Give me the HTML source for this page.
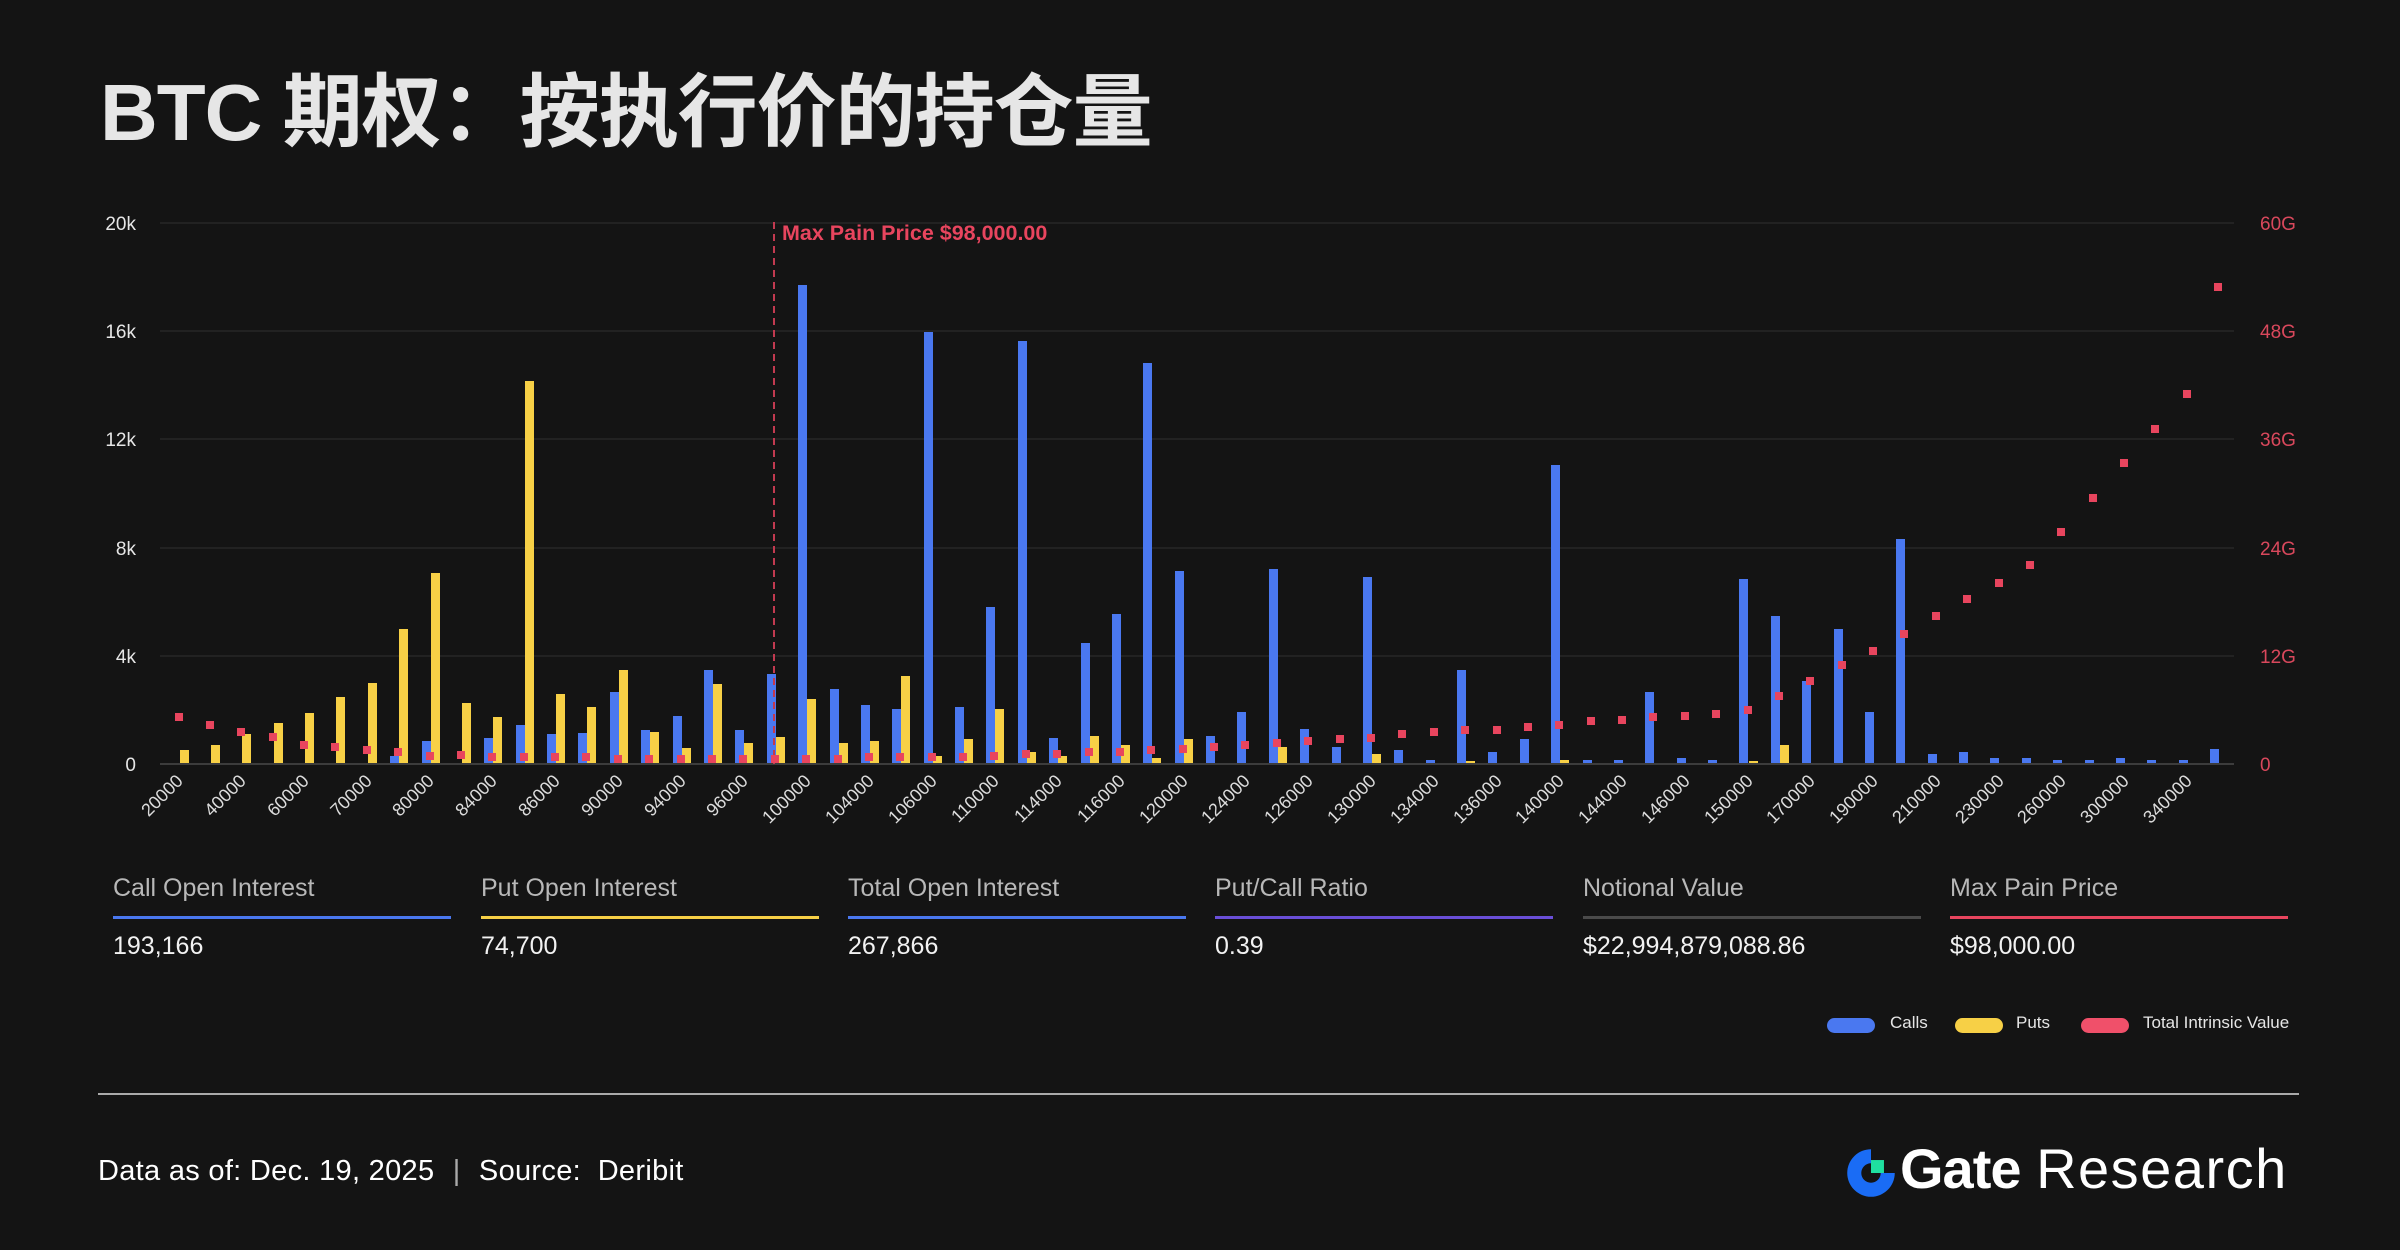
<!DOCTYPE html>
<html><head><meta charset="utf-8"><style>
html,body{margin:0;padding:0;background:#141414;}
body{width:2400px;height:1250px;position:relative;overflow:hidden;font-family:"Liberation Sans","Noto Sans CJK SC",sans-serif;color:#fff;}
.title{position:absolute;left:100px;top:48px;font-size:80px;font-weight:bold;color:#e6e6e6;font-family:"Liberation Sans","Noto Sans CJK SC",sans-serif;letter-spacing:-1px;white-space:nowrap;}
.stat{position:absolute;top:874px;width:338px;}
.stat .l{font-size:25px;color:#b8b8b8;height:36px;}
.stat .bar{height:3px;margin-top:6px;}
.stat .v{font-size:25px;color:#f2f2f2;margin-top:13px;}
.leg{position:absolute;top:1013px;font-size:17px;color:#e6e6e6;}
.pill{position:absolute;top:1018px;width:48px;height:15px;border-radius:8px;}
.sep{position:absolute;left:98px;top:1093px;width:2201px;height:2px;background:#aaa;}
.foot{position:absolute;left:98px;top:1155px;font-size:29px;color:#fff;letter-spacing:0.3px;}
.logo{position:absolute;left:1900px;top:1136px;font-size:56px;color:#fff;white-space:nowrap;}
</style></head><body>
<div class="title">BTC 期权：按执行价的持仓量</div>

<svg width="2400" height="1250" style="position:absolute;left:0;top:0" xmlns="http://www.w3.org/2000/svg">
<g stroke="#262626" stroke-width="1.5">
<line x1="160" x2="2234" y1="223" y2="223"/><line x1="160" x2="2234" y1="331" y2="331"/>
<line x1="160" x2="2234" y1="439" y2="439"/><line x1="160" x2="2234" y1="548" y2="548"/>
<line x1="160" x2="2234" y1="656" y2="656"/>
</g>
<g font-family="Liberation Sans, sans-serif" font-size="19" fill="#e6e6e6" text-anchor="end">
<text x="136" y="230">20k</text><text x="136" y="338">16k</text><text x="136" y="446">12k</text>
<text x="136" y="555">8k</text><text x="136" y="663">4k</text><text x="136" y="771">0</text>
</g>
<g font-family="Liberation Sans, sans-serif" font-size="19" fill="#d9485c">
<text x="2260" y="230">60G</text><text x="2260" y="338">48G</text><text x="2260" y="446">36G</text>
<text x="2260" y="555">24G</text><text x="2260" y="663">12G</text><text x="2260" y="771">0</text>
</g>
<g fill="#4a78f0">
<rect x="390" y="756" width="9" height="8"/><rect x="422" y="741" width="9" height="23"/>
<rect x="484" y="738" width="9" height="26"/><rect x="516" y="725" width="9" height="39"/>
<rect x="547" y="734" width="9" height="30"/><rect x="578" y="733" width="9" height="31"/>
<rect x="610" y="692" width="9" height="72"/><rect x="641" y="730" width="9" height="34"/>
<rect x="673" y="716" width="9" height="48"/><rect x="704" y="670" width="9" height="94"/>
<rect x="735" y="730" width="9" height="34"/><rect x="767" y="674" width="9" height="90"/>
<rect x="798" y="285" width="9" height="479"/><rect x="830" y="689" width="9" height="75"/>
<rect x="861" y="705" width="9" height="59"/><rect x="892" y="709" width="9" height="55"/>
<rect x="924" y="332" width="9" height="432"/><rect x="955" y="707" width="9" height="57"/>
<rect x="986" y="607" width="9" height="157"/><rect x="1018" y="341" width="9" height="423"/>
<rect x="1049" y="738" width="9" height="26"/><rect x="1081" y="643" width="9" height="121"/>
<rect x="1112" y="614" width="9" height="150"/><rect x="1143" y="363" width="9" height="401"/>
<rect x="1175" y="571" width="9" height="193"/><rect x="1206" y="736" width="9" height="28"/>
<rect x="1237" y="712" width="9" height="52"/><rect x="1269" y="569" width="9" height="195"/>
<rect x="1300" y="729" width="9" height="35"/><rect x="1332" y="747" width="9" height="17"/>
<rect x="1363" y="577" width="9" height="187"/><rect x="1394" y="750" width="9" height="14"/>
<rect x="1426" y="760" width="9" height="4"/><rect x="1457" y="670" width="9" height="94"/>
<rect x="1488" y="752" width="9" height="12"/><rect x="1520" y="739" width="9" height="25"/>
<rect x="1551" y="465" width="9" height="299"/><rect x="1583" y="760" width="9" height="4"/>
<rect x="1614" y="760" width="9" height="4"/><rect x="1645" y="692" width="9" height="72"/>
<rect x="1677" y="758" width="9" height="6"/><rect x="1708" y="760" width="9" height="4"/>
<rect x="1739" y="579" width="9" height="185"/><rect x="1771" y="616" width="9" height="148"/>
<rect x="1802" y="681" width="9" height="83"/><rect x="1834" y="629" width="9" height="135"/>
<rect x="1865" y="712" width="9" height="52"/><rect x="1896" y="539" width="9" height="225"/>
<rect x="1928" y="754" width="9" height="10"/><rect x="1959" y="752" width="9" height="12"/>
<rect x="1990" y="758" width="9" height="6"/><rect x="2022" y="758" width="9" height="6"/>
<rect x="2053" y="760" width="9" height="4"/><rect x="2085" y="760" width="9" height="4"/>
<rect x="2116" y="758" width="9" height="6"/><rect x="2147" y="760" width="9" height="4"/>
<rect x="2179" y="760" width="9" height="4"/><rect x="2210" y="749" width="9" height="15"/>
</g>
<g fill="#f7d046">
<rect x="180" y="750" width="9" height="14"/><rect x="211" y="745" width="9" height="19"/>
<rect x="242" y="734" width="9" height="30"/><rect x="274" y="723" width="9" height="41"/>
<rect x="305" y="713" width="9" height="51"/><rect x="336" y="697" width="9" height="67"/>
<rect x="368" y="683" width="9" height="81"/><rect x="399" y="629" width="9" height="135"/>
<rect x="431" y="573" width="9" height="191"/><rect x="462" y="703" width="9" height="61"/>
<rect x="493" y="717" width="9" height="47"/><rect x="525" y="381" width="9" height="383"/>
<rect x="556" y="694" width="9" height="70"/><rect x="587" y="707" width="9" height="57"/>
<rect x="619" y="670" width="9" height="94"/><rect x="650" y="732" width="9" height="32"/>
<rect x="682" y="748" width="9" height="16"/><rect x="713" y="684" width="9" height="80"/>
<rect x="744" y="743" width="9" height="21"/><rect x="776" y="737" width="9" height="27"/>
<rect x="807" y="699" width="9" height="65"/><rect x="839" y="743" width="9" height="21"/>
<rect x="870" y="741" width="9" height="23"/><rect x="901" y="676" width="9" height="88"/>
<rect x="933" y="756" width="9" height="8"/><rect x="964" y="739" width="9" height="25"/>
<rect x="995" y="709" width="9" height="55"/><rect x="1027" y="752" width="9" height="12"/>
<rect x="1058" y="756" width="9" height="8"/><rect x="1090" y="736" width="9" height="28"/>
<rect x="1121" y="745" width="9" height="19"/><rect x="1152" y="758" width="9" height="6"/>
<rect x="1184" y="739" width="9" height="25"/><rect x="1278" y="747" width="9" height="17"/>
<rect x="1372" y="754" width="9" height="10"/><rect x="1466" y="761" width="9" height="3"/>
<rect x="1560" y="760" width="9" height="4"/><rect x="1749" y="761" width="9" height="3"/>
<rect x="1780" y="745" width="9" height="19"/>
</g>
<line x1="160" x2="2234" y1="764" y2="764" stroke="#3c3c3c" stroke-width="2"/>
<line x1="774" x2="774" y1="222" y2="764" stroke="#c23a50" stroke-width="2" stroke-dasharray="7,5"/>
<text x="782" y="240" font-family="Liberation Sans, sans-serif" font-size="21.5" font-weight="bold" fill="#e8455e">Max Pain Price $98,000.00</text>
<g fill="#e8455e">
<rect x="175" y="713" width="8" height="8"/><rect x="206" y="721" width="8" height="8"/>
<rect x="237" y="728" width="8" height="8"/><rect x="269" y="733" width="8" height="8"/>
<rect x="300" y="741" width="8" height="8"/><rect x="331" y="743" width="8" height="8"/>
<rect x="363" y="746" width="8" height="8"/><rect x="394" y="748" width="8" height="8"/>
<rect x="426" y="752" width="8" height="8"/><rect x="457" y="751" width="8" height="8"/>
<rect x="488" y="753" width="8" height="8"/><rect x="520" y="753" width="8" height="8"/>
<rect x="551" y="753" width="8" height="8"/><rect x="582" y="753" width="8" height="8"/>
<rect x="614" y="755" width="8" height="8"/><rect x="645" y="755" width="8" height="8"/>
<rect x="677" y="755" width="8" height="8"/><rect x="708" y="755" width="8" height="8"/>
<rect x="739" y="755" width="8" height="8"/><rect x="771" y="755" width="8" height="8"/>
<rect x="802" y="755" width="8" height="8"/><rect x="834" y="755" width="8" height="8"/>
<rect x="865" y="753" width="8" height="8"/><rect x="896" y="753" width="8" height="8"/>
<rect x="928" y="753" width="8" height="8"/><rect x="959" y="753" width="8" height="8"/>
<rect x="990" y="752" width="8" height="8"/><rect x="1022" y="750" width="8" height="8"/>
<rect x="1053" y="750" width="8" height="8"/><rect x="1085" y="748" width="8" height="8"/>
<rect x="1116" y="748" width="8" height="8"/><rect x="1147" y="746" width="8" height="8"/>
<rect x="1179" y="745" width="8" height="8"/><rect x="1210" y="743" width="8" height="8"/>
<rect x="1241" y="741" width="8" height="8"/><rect x="1273" y="739" width="8" height="8"/>
<rect x="1304" y="737" width="8" height="8"/><rect x="1336" y="735" width="8" height="8"/>
<rect x="1367" y="734" width="8" height="8"/><rect x="1398" y="730" width="8" height="8"/>
<rect x="1430" y="728" width="8" height="8"/><rect x="1461" y="726" width="8" height="8"/>
<rect x="1493" y="726" width="8" height="8"/><rect x="1524" y="723" width="8" height="8"/>
<rect x="1555" y="721" width="8" height="8"/><rect x="1587" y="717" width="8" height="8"/>
<rect x="1618" y="716" width="8" height="8"/><rect x="1649" y="713" width="8" height="8"/>
<rect x="1681" y="712" width="8" height="8"/><rect x="1712" y="710" width="8" height="8"/>
<rect x="1744" y="706" width="8" height="8"/><rect x="1775" y="692" width="8" height="8"/>
<rect x="1806" y="677" width="8" height="8"/><rect x="1838" y="661" width="8" height="8"/>
<rect x="1869" y="647" width="8" height="8"/><rect x="1900" y="630" width="8" height="8"/>
<rect x="1932" y="612" width="8" height="8"/><rect x="1963" y="595" width="8" height="8"/>
<rect x="1995" y="579" width="8" height="8"/><rect x="2026" y="561" width="8" height="8"/>
<rect x="2057" y="528" width="8" height="8"/><rect x="2089" y="494" width="8" height="8"/>
<rect x="2120" y="459" width="8" height="8"/><rect x="2151" y="425" width="8" height="8"/>
<rect x="2183" y="390" width="8" height="8"/><rect x="2214" y="283" width="8" height="8"/>
</g>
<g font-family="Liberation Sans, sans-serif" font-size="18" fill="#dcdcdc" text-anchor="end">
<text transform="translate(184,782) rotate(-45)">20000</text>
<text transform="translate(247,782) rotate(-45)">40000</text>
<text transform="translate(310,782) rotate(-45)">60000</text>
<text transform="translate(373,782) rotate(-45)">70000</text>
<text transform="translate(435,782) rotate(-45)">80000</text>
<text transform="translate(498,782) rotate(-45)">84000</text>
<text transform="translate(561,782) rotate(-45)">86000</text>
<text transform="translate(624,782) rotate(-45)">90000</text>
<text transform="translate(687,782) rotate(-45)">94000</text>
<text transform="translate(749,782) rotate(-45)">96000</text>
<text transform="translate(812,782) rotate(-45)">100000</text>
<text transform="translate(875,782) rotate(-45)">104000</text>
<text transform="translate(938,782) rotate(-45)">106000</text>
<text transform="translate(1000,782) rotate(-45)">110000</text>
<text transform="translate(1063,782) rotate(-45)">114000</text>
<text transform="translate(1126,782) rotate(-45)">116000</text>
<text transform="translate(1189,782) rotate(-45)">120000</text>
<text transform="translate(1251,782) rotate(-45)">124000</text>
<text transform="translate(1314,782) rotate(-45)">126000</text>
<text transform="translate(1377,782) rotate(-45)">130000</text>
<text transform="translate(1440,782) rotate(-45)">134000</text>
<text transform="translate(1503,782) rotate(-45)">136000</text>
<text transform="translate(1565,782) rotate(-45)">140000</text>
<text transform="translate(1628,782) rotate(-45)">144000</text>
<text transform="translate(1691,782) rotate(-45)">146000</text>
<text transform="translate(1754,782) rotate(-45)">150000</text>
<text transform="translate(1816,782) rotate(-45)">170000</text>
<text transform="translate(1879,782) rotate(-45)">190000</text>
<text transform="translate(1942,782) rotate(-45)">210000</text>
<text transform="translate(2005,782) rotate(-45)">230000</text>
<text transform="translate(2067,782) rotate(-45)">260000</text>
<text transform="translate(2130,782) rotate(-45)">300000</text>
<text transform="translate(2193,782) rotate(-45)">340000</text>
</g>
</svg>

<div class="stat" style="left:113px"><div class="l">Call Open Interest</div><div class="bar" style="background:#4a78f0"></div><div class="v">193,166</div></div>
<div class="stat" style="left:481px"><div class="l">Put Open Interest</div><div class="bar" style="background:#f7d046"></div><div class="v">74,700</div></div>
<div class="stat" style="left:848px"><div class="l">Total Open Interest</div><div class="bar" style="background:#4a78f0"></div><div class="v">267,866</div></div>
<div class="stat" style="left:1215px"><div class="l">Put/Call Ratio</div><div class="bar" style="background:#6a4fd8"></div><div class="v">0.39</div></div>
<div class="stat" style="left:1583px"><div class="l">Notional Value</div><div class="bar" style="background:#4a4a4a"></div><div class="v">$22,994,879,088.86</div></div>
<div class="stat" style="left:1950px"><div class="l">Max Pain Price</div><div class="bar" style="background:#e8455e"></div><div class="v">$98,000.00</div></div>

<div class="pill" style="left:1827px;background:#4a78f0"></div><div class="leg" style="left:1890px">Calls</div>
<div class="pill" style="left:1955px;background:#f7d046"></div><div class="leg" style="left:2016px">Puts</div>
<div class="pill" style="left:2081px;background:#f0506a"></div><div class="leg" style="left:2143px">Total Intrinsic Value</div>

<div class="sep"></div>
<div class="foot">Data as of: Dec. 19, 2025 <span style="color:#aaa;margin:0 10px">|</span> Source:&nbsp; Deribit</div>

<svg style="position:absolute;left:1844px;top:1146px" width="54" height="54" viewBox="0 0 50 50">
<path d="M25 3 A22 22 0 1 0 47 25 L34 25 A9 9 0 1 1 25 16 Z" fill="#1a6cf5"/>
<rect x="25" y="13" width="12" height="12" fill="#1fe0a0"/>
</svg>
<div class="logo"><b style="letter-spacing:-1px">Gate</b> <span style="font-weight:normal;letter-spacing:1.5px">Research</span></div>
</body></html>
